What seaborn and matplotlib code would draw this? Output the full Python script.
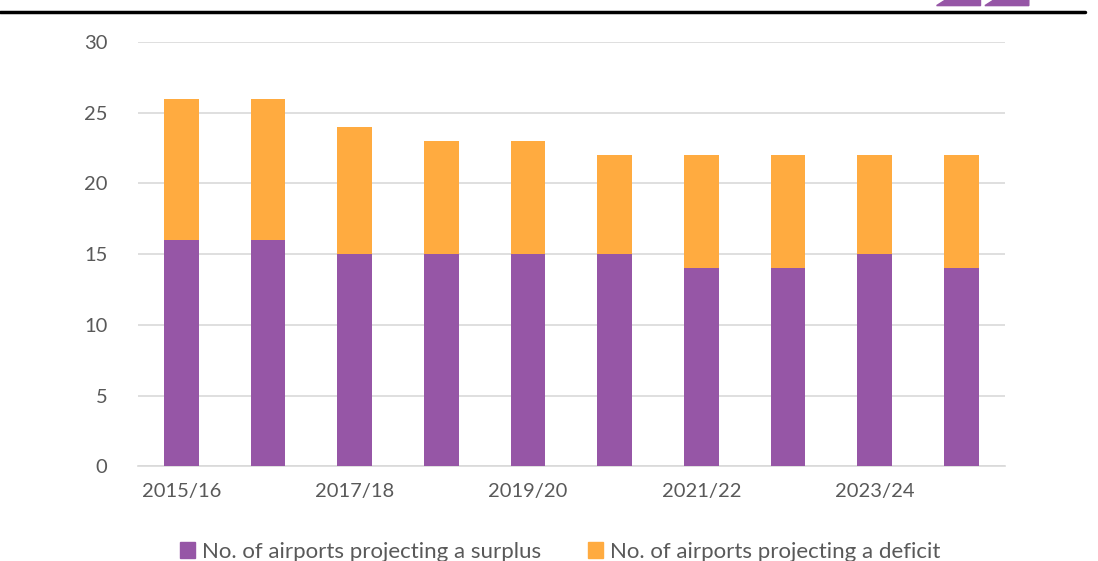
import pandas as pd
import matplotlib.pyplot as plt
import matplotlib.patches as mpatches
import seaborn as sns

# chart values
years = ['2015/16', '2016/17', '2017/18', '2018/19', '2019/20',
         '2020/21', '2021/22', '2022/23', '2023/24', '2024/25']
surplus = [16, 16, 15, 15, 15, 15, 14, 14, 15, 14]
deficit = [10, 10, 9, 8, 8, 7, 8, 8, 7, 8]

purple = '#9656A6'
orange = '#FFAB40'
text_col = '#595959'

df = pd.DataFrame({'year': years, 'surplus': surplus, 'deficit': deficit})
df['total'] = df['surplus'] + df['deficit']

sns.set_style('white')
plt.rcParams['font.family'] = ['Lato', 'DejaVu Sans']

fig = plt.figure(figsize=(10.98, 5.61), dpi=100)
ax = fig.add_axes([0.1257, 0.169, 0.7893, 0.756])

# stacked bars: total in orange, surplus drawn over it
sns.barplot(data=df, x='year', y='total', color=orange, width=0.4,
            saturation=1, linewidth=0, ax=ax, zorder=3)
sns.barplot(data=df, x='year', y='surplus', color=purple, width=0.4,
            saturation=1, linewidth=0, ax=ax, zorder=3)

ax.set_ylim(0, 30)
ax.set_xlim(-0.5, len(years) - 0.5)
ax.set_yticks(range(0, 31, 5))
ax.yaxis.grid(True, color='#D9D9D9', linewidth=1.2, zorder=0)
ax.set_xlabel('')
ax.set_ylabel('')
ax.set_xticks(range(len(years)))
ax.set_xticklabels([y if i % 2 == 0 else '' for i, y in enumerate(years)])
ax.tick_params(axis='both', length=0, labelsize=14.5, colors=text_col)
ax.tick_params(axis='x', pad=12)
ax.tick_params(axis='y', pad=22)
for s in ['top', 'right', 'left']:
    ax.spines[s].set_visible(False)
ax.spines['bottom'].set_color('#D9D9D9')
ax.spines['bottom'].set_linewidth(1.2)

handles = [mpatches.Patch(color=purple, label='No. of airports projecting a surplus'),
           mpatches.Patch(color=orange, label='No. of airports projecting a deficit')]
fig.legend(handles=handles, loc='center', bbox_to_anchor=(0.51, 0.016), ncol=2,
           frameon=False, fontsize=16, handlelength=0.7, handleheight=0.7,
           handletextpad=0.3, columnspacing=2.1, labelcolor=text_col)

# header rule and decorative shapes
fig.add_artist(plt.Line2D([0, 0.988], [0.978, 0.978], color='black', linewidth=2.5,
                          transform=fig.transFigure))
for x0 in [0.853, 0.897]:
    fig.add_artist(mpatches.Polygon([[x0, 0.99], [x0 + 0.008, 1.0], [x0 + 0.04, 1.0],
                                     [x0 + 0.04, 0.99]], closed=True, color=purple,
                                    transform=fig.transFigure))

fig.savefig('out.png', dpi=100)
